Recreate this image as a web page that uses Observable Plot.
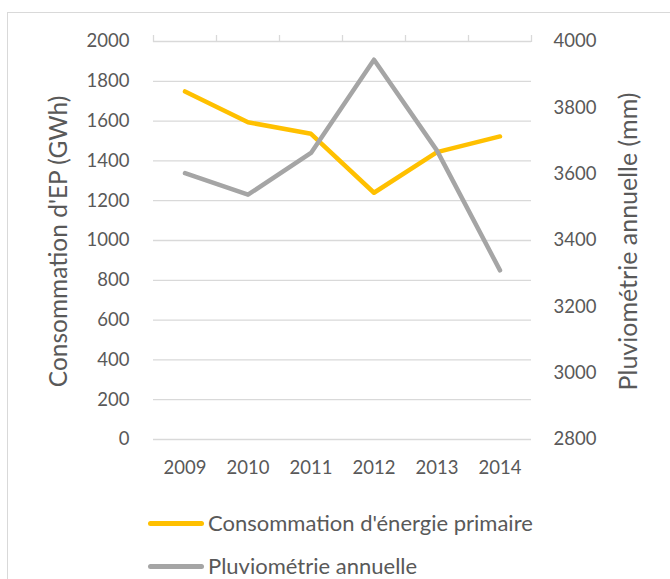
<!DOCTYPE html>
<html><head><meta charset="utf-8">
<script src="https://cdn.jsdelivr.net/npm/d3@7"></script>
<script src="https://cdn.jsdelivr.net/npm/@observablehq/plot@0.6"></script>
<style>
body{margin:0;background:#fff;font-family:Lato,"Open Sans",sans-serif;width:670px;height:579px;overflow:hidden;position:relative;}
#frame{position:absolute;left:7px;top:12px;width:720px;height:640px;border:1px solid #d9d9d9;}
#chart{position:absolute;left:0;top:0;}
#legend{position:absolute;left:0;top:495px;width:670px;}
.legend-item{position:absolute;left:148px;display:flex;align-items:center;font-size:22px;line-height:1;color:#595959;height:22px;}
.legend-item .sw{display:inline-block;width:56px;height:5px;border-radius:3px;margin-right:4px;}
</style></head><body>
<div id="frame"></div>
<div id="chart"></div>
<div id="legend"></div>
<script>
const years = [2009, 2010, 2011, 2012, 2013, 2014];
const consumption = [1749, 1594, 1536, 1240, 1444, 1523];
const rainfall = [3603, 3538, 3664, 3945, 3671, 3310];
const leftTicks = [0, 200, 400, 600, 800, 1000, 1200, 1400, 1600, 1800, 2000];
const rightTicks = [2800, 3000, 3200, 3400, 3600, 3800, 4000];
const seriesNames = ["Consommation d'énergie primaire", "Pluviométrie annuelle"];
const seriesColors = ["#FFC000", "#A5A5A5"];
const leftTitle = "Consommation d'EP (GWh)";
const rightTitle = "Pluviométrie annuelle (mm)";

const toLeft = v => (v - 2800) / 1200 * 2000;
const fromLeft = v => v * 1200 / 2000 + 2800;
const data = years.map((y, i) => ({year: y, cons: consumption[i], rain: toLeft(rainfall[i])}));
const boundaries = years.map(y => y - 0.5).concat([years[years.length - 1] + 0.5]);

const chart = Plot.plot({
  width: 670, height: 495,
  marginLeft: 153, marginRight: 139, marginTop: 41, marginBottom: 56,
  style: {fontFamily: "Lato, 'Open Sans', sans-serif", fontSize: "18.5px", color: "#595959", background: "transparent", overflow: "visible"},
  x: {type: "linear", domain: [boundaries[0], boundaries[boundaries.length - 1]]},
  y: {domain: [0, 2000]},
  marks: [
    Plot.gridY({ticks: leftTicks, stroke: "#d9d9d9", strokeOpacity: 1, strokeWidth: 1.3}),
    Plot.axisX({anchor: "top", ticks: boundaries, tickSize: 7, tickFormat: () => "", stroke: "#d9d9d9", strokeOpacity: 1, strokeWidth: 1.3, label: null}),
    Plot.axisX({anchor: "bottom", ticks: years, tickSize: 0, tickPadding: 21, tickFormat: d => String(d), label: null, fill: "#595959", fontSize: 18.5}),
    Plot.axisY({anchor: "left", ticks: leftTicks, tickSize: 0, tickPadding: 24, tickFormat: d => String(d), label: null, fill: "#595959", fontSize: 18.5}),
    Plot.axisY({anchor: "right", ticks: rightTicks.map(toLeft), tickSize: 0, tickPadding: 22, tickFormat: d => String(Math.round(fromLeft(d))), label: null, fill: "#595959", fontSize: 18.5}),
    Plot.text([leftTitle], {frameAnchor: "left", textAnchor: "middle", rotate: -90, dx: -94, dy: 1, fontSize: 24.5, fill: "#595959"}),
    Plot.text([rightTitle], {frameAnchor: "right", textAnchor: "middle", rotate: -90, dx: 97, dy: 1, fontSize: 25, fill: "#595959"}),
    Plot.line(data, {x: "year", y: "cons", stroke: seriesColors[0], strokeWidth: 4.5, strokeLinecap: "round", strokeLinejoin: "round"}),
    Plot.line(data, {x: "year", y: "rain", stroke: seriesColors[1], strokeWidth: 4.5, strokeLinecap: "round", strokeLinejoin: "round"})
  ]
});
document.getElementById("chart").appendChild(chart);

const legend = document.getElementById("legend");
const legendTops = [17, 60];
seriesNames.forEach((name, i) => {
  const item = document.createElement("div");
  item.className = "legend-item";
  item.style.top = legendTops[i] + "px";
  const sw = document.createElement("span");
  sw.className = "sw";
  sw.style.background = seriesColors[i];
  const label = document.createElement("span");
  label.textContent = name;
  item.appendChild(sw);
  item.appendChild(label);
  legend.appendChild(item);
});
</script>
</body></html>
